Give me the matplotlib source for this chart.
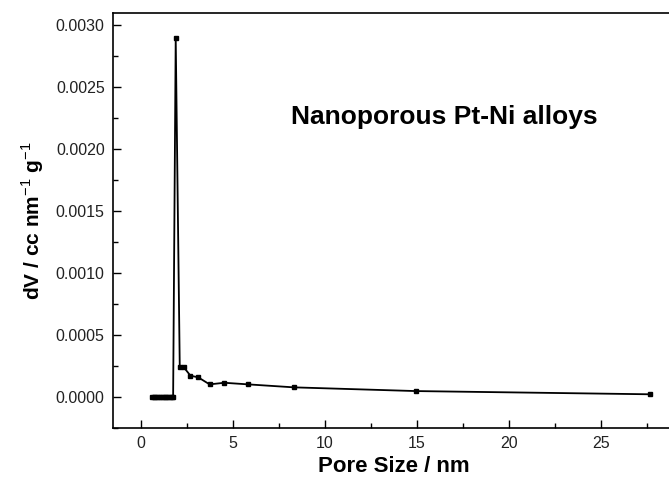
import numpy as np
import matplotlib
matplotlib.use("Agg")
import matplotlib.pyplot as plt
from matplotlib.ticker import MultipleLocator, FormatStrFormatter

# pore size distribution
pore_size = [0.6, 0.7, 0.8, 0.9, 1.0, 1.1, 1.2, 1.3, 1.4, 1.5, 1.6, 1.7, 1.76,
             1.9, 2.12, 2.34, 2.7, 3.12, 3.74, 4.54, 5.83, 8.31, 14.93, 27.62]
dv = [0, 0, 0, 0, 0, 0, 0, 0, 0, 0, 0, 0, 0,
      0.0029, 0.000242, 0.00024, 0.000172, 0.000159, 0.000102, 0.000115,
      0.000102, 0.000078, 0.000048, 0.000022]

plt.rcParams['font.family'] = ['Liberation Sans', 'DejaVu Sans']
plt.rcParams['mathtext.fontset'] = 'custom'
plt.rcParams['mathtext.rm'] = 'Liberation Sans'
plt.rcParams['mathtext.bf'] = 'Liberation Sans:bold'

fig = plt.figure(figsize=(6.69, 4.79), dpi=100)
ax = fig.add_axes([0.169, 0.1065, 0.84, 0.8665])

ax.plot(pore_size, dv, color='black', lw=1.3, marker='s', ms=3.5,
        markerfacecolor='black', markeredgecolor='black')

ax.set_xlim(-1.5, 29.0)
ax.set_ylim(-0.00025, 0.0031)
ax.xaxis.set_major_locator(MultipleLocator(5))
ax.xaxis.set_minor_locator(MultipleLocator(2.5))
ax.yaxis.set_major_locator(MultipleLocator(0.0005))
ax.yaxis.set_minor_locator(MultipleLocator(0.00025))
ax.yaxis.set_major_formatter(FormatStrFormatter('%.4f'))
ax.tick_params(which='both', direction='in', top=False, right=False,
               labelsize=11.5, labelcolor='#222222', pad=6)
ax.tick_params(which='major', length=6, width=1)
ax.tick_params(which='minor', length=3.5, width=1)
ax.spines['right'].set_visible(False)
for s in ['left', 'bottom', 'top']:
    ax.spines[s].set_linewidth(1.2)

ax.set_xlabel('Pore Size / nm', fontsize=16, fontweight='bold', labelpad=3.5)
ax.set_ylabel(r'dV / cc nm$^{\mathrm{-1}}$ g$^{\mathrm{-1}}$', fontsize=15,
              fontweight='bold', labelpad=7)
ax.text(16.5, 0.00226, 'Nanoporous Pt-Ni alloys', fontsize=19, fontweight='bold',
        ha='center', va='center')

fig.savefig('out.png', dpi=100)
